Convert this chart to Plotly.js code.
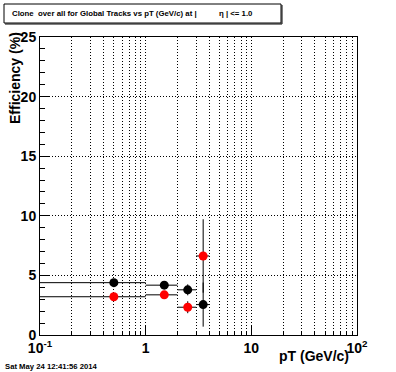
<!DOCTYPE html>
<html>
<head>
<meta charset="utf-8">
<script src="https://cdn.plot.ly/plotly-3.0.1.min.js"></script>
<style>html,body{margin:0;padding:0;background:#fff;}</style>
</head>
<body>
<div id="chart" style="width:396px;height:372px;"></div>
<script>
// Data (pT bin centres, efficiencies in %)
const ptCenters = [0.5, 1.5, 2.5, 3.5];
const ptErrLow = [0.5, 0.5, 0.5, 0.5];
const ptErrHigh = [0.5, 0.5, 0.5, 0.5];
const blackEff = [4.39, 4.18, 3.79, 2.55];
const blackErr = [0.2, 0.25, 0.46, 1.85];
const redEff = [3.21, 3.37, 2.33, 6.63];
const redErr = [0.2, 0.25, 0.5, 3.08];

const xMajorVals = [0.1, 1, 10, 100];
const xMajorText = ['10<sup>-1</sup>', '1', '10', '10<sup>2</sup>'];
const xMinorVals = [];
[0.1, 1, 10].forEach(d => { for (let k = 2; k <= 9; k++) xMinorVals.push(+(d * k).toPrecision(3)); });

const yMajorVals = [0, 5, 10, 15, 20, 25];

const font = {family: 'Liberation Sans, Arial, sans-serif', color: '#000'};
const DOT = '1px,2px';

function series(y, ey, color) {
  return {
    type: 'scatter', mode: 'markers', x: ptCenters, y: y,
    marker: {symbol: 'circle', size: 9, color: color},
    error_x: {type: 'data', symmetric: false, array: ptErrHigh, arrayminus: ptErrLow, color: '#000', thickness: 1, width: 0},
    error_y: {type: 'data', array: ey, color: '#000', thickness: 1, width: 0},
    showlegend: false, cliponaxis: true
  };
}

const data = [series(blackEff, blackErr, '#000000'), series(redEff, redErr, '#ff0000')];

const W = 317, H = 298;
const px = v => (v - 40) / W;
const py = v => (335 - v) / H;

const layout = {
  width: 396, height: 372,
  margin: {l: 40, r: 39, t: 37, b: 37, pad: 0},
  paper_bgcolor: '#fff', plot_bgcolor: '#fff',
  font: font,
  xaxis: {
    type: 'log', range: [-1, 2],
    tickmode: 'array', tickvals: xMajorVals, ticktext: xMajorText,
    ticks: 'inside', ticklen: 9, tickcolor: '#000', tickwidth: 1,
    tickfont: {family: font.family, size: 14, color: '#000', weight: 'bold'},
    showgrid: true, gridcolor: '#000', griddash: DOT, gridwidth: 1,
    minor: {tickmode: 'array', tickvals: xMinorVals, ticks: 'inside', ticklen: 4, tickcolor: '#000',
            showgrid: true, gridcolor: '#000', griddash: DOT, gridwidth: 1},
    showline: true, linecolor: '#000', linewidth: 1, mirror: true,
    zeroline: false, fixedrange: true
  },
  yaxis: {
    range: [0, 25],
    tickmode: 'array', tickvals: yMajorVals,
    ticks: 'inside', ticklen: 9, tickcolor: '#000', tickwidth: 1,
    tickfont: {family: font.family, size: 14, color: '#000', weight: 'bold'},
    showgrid: true, gridcolor: '#000', griddash: DOT, gridwidth: 1,
    minor: {dtick: 1, ticks: 'inside', ticklen: 5, tickcolor: '#000', showgrid: false},
    showline: true, linecolor: '#000', linewidth: 1, mirror: true,
    zeroline: false, fixedrange: true
  },
  shapes: [
    {type: 'rect', xref: 'paper', yref: 'paper', x0: px(4), x1: px(281), y0: py(23), y1: py(4),
     line: {color: '#000', width: 1}, fillcolor: '#fff'},
    {type: 'line', xref: 'paper', yref: 'paper', x0: px(5), x1: px(282), y0: py(24), y1: py(24),
     line: {color: '#000', width: 1}},
    {type: 'line', xref: 'paper', yref: 'paper', x0: px(282), x1: px(282), y0: py(24), y1: py(5),
     line: {color: '#000', width: 1}}
  ],
  annotations: [
    {xref: 'paper', yref: 'paper', x: px(10), y: py(13.5), xanchor: 'left', yanchor: 'middle', showarrow: false,
     text: 'Clone  over all for Global Tracks vs pT (GeV/c) at |',
     font: {family: font.family, size: 7.8, color: '#000', weight: 'bold'}},
    {xref: 'paper', yref: 'paper', x: px(217), y: py(13.5), xanchor: 'left', yanchor: 'middle', showarrow: false,
     text: 'η | <= 1.0',
     font: {family: font.family, size: 7.8, color: '#000', weight: 'bold'}},
    {xref: 'paper', yref: 'paper', x: px(15), y: py(78), xanchor: 'center', yanchor: 'middle', showarrow: false,
     textangle: -90, text: 'Efficiency (%)',
     font: {family: font.family, size: 14, color: '#000', weight: 'bold'}},
    {xref: 'paper', yref: 'paper', x: px(351), y: py(356), xanchor: 'right', yanchor: 'middle', showarrow: false,
     text: 'pT (GeV/c)',
     font: {family: font.family, size: 14, color: '#000', weight: 'bold'}},
    {xref: 'paper', yref: 'paper', x: px(3), y: py(366), xanchor: 'left', yanchor: 'middle', showarrow: false,
     text: 'Sat May 24 12:41:56 2014',
     font: {family: font.family, size: 7.7, color: '#000', weight: 'bold'}}
  ]
};

Plotly.newPlot('chart', data, layout, {displayModeBar: false, staticPlot: true});
</script>
</body>
</html>
